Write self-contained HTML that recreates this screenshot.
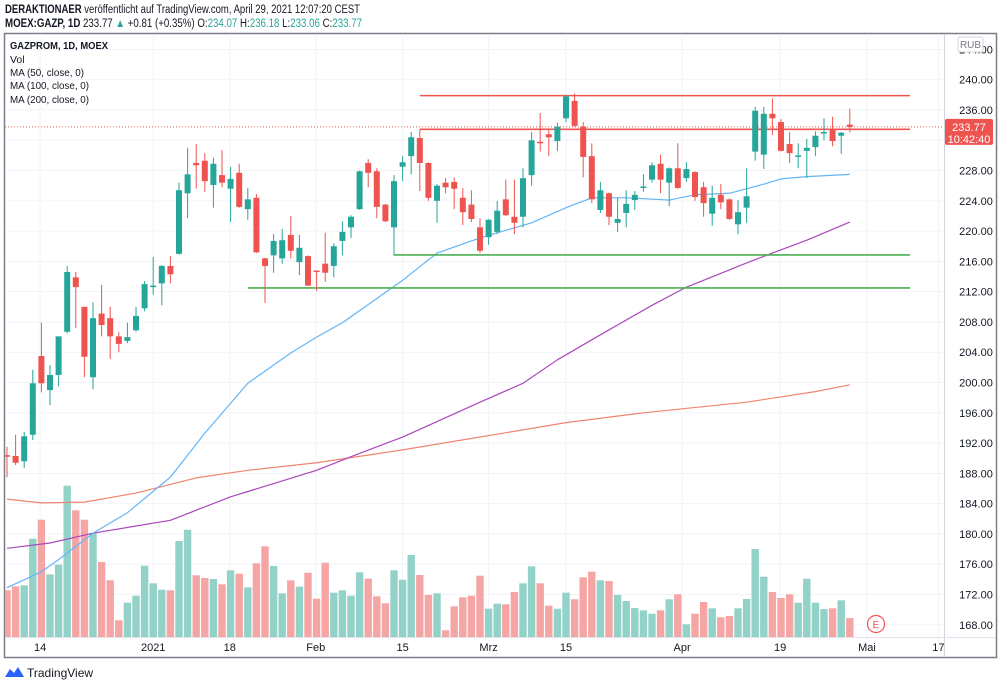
<!DOCTYPE html>
<html><head><meta charset="utf-8"><style>
html,body{margin:0;padding:0;background:#fff;width:1000px;height:684px;overflow:hidden}
svg{display:block;font-family:"Liberation Sans",sans-serif}
</style></head><body>
<svg id="chart" width="1000" height="684" viewBox="0 0 1000 684">
<g>
<text x="5" y="13" font-size="11.5" fill="#131722" textLength="355" lengthAdjust="spacingAndGlyphs"><tspan font-weight="bold">DERAKTIONAER</tspan> veröffentlicht auf TradingView.com, April 29, 2021 12:07:20 CEST</text>
<text x="5" y="27" font-size="11.5" fill="#131722" textLength="357" lengthAdjust="spacingAndGlyphs"><tspan font-weight="bold">MOEX:GAZP, 1D</tspan> 233.77 <tspan fill="#26a69a">▲</tspan> +0.81 (+0.35%) O:<tspan fill="#26a69a">234.07</tspan> H:<tspan fill="#26a69a">236.18</tspan> L:<tspan fill="#26a69a">233.06</tspan> C:<tspan fill="#26a69a">233.77</tspan></text>
</g>
<rect x="4.5" y="33.5" width="992" height="624" fill="none" stroke="#7b7e88" stroke-width="1.5"/>
<g id="grid"></g>
<defs><clipPath id="plot"><rect x="5" y="34" width="939" height="603"/></clipPath></defs>
<g id="vol" clip-path="url(#plot)"></g>
<g id="mas" clip-path="url(#plot)"></g>
<g id="lines"></g>
<g id="candles" clip-path="url(#plot)"></g>
<line x1="944.5" y1="34" x2="944.5" y2="657" stroke="#d1d4dc"/>
<line x1="5" y1="637.5" x2="996" y2="637.5" stroke="#e0e3eb"/>
<g id="yaxis"></g>
<g id="xaxis"></g>
<g font-size="10.5" fill="#131722">
<text x="10" y="49" font-weight="bold" textLength="98" lengthAdjust="spacingAndGlyphs">GAZPROM, 1D, MOEX</text>
<text x="10" y="63">Vol</text>
<text x="10" y="76" textLength="74" lengthAdjust="spacingAndGlyphs">MA (50, close, 0)</text>
<text x="10" y="89" textLength="79" lengthAdjust="spacingAndGlyphs">MA (100, close, 0)</text>
<text x="10" y="103" textLength="79" lengthAdjust="spacingAndGlyphs">MA (200, close, 0)</text>
</g>
<g><rect x="958" y="37" width="25" height="15" rx="2" fill="#fff" stroke="#d1d4dc"/><text x="970.5" y="48" font-size="10" text-anchor="middle" fill="#787b86">RUB</text></g>
<g><circle cx="876" cy="624" r="8.5" fill="#fff" stroke="#ef5350" stroke-width="1.2"/><text x="876" y="628" font-size="10" text-anchor="middle" fill="#ef5350">E</text></g>
<g id="pricetag"></g>
<g>
<path d="M5 677 L10 669 L14 673 L18 667 L24 677 Z" fill="#2962ff"/>
<text x="27" y="677" font-size="12" fill="#131722">TradingView</text>
</g>
</svg>
<script>
const opens=[190.4,190.3,189.6,193.1,203.5,199.0,201.0,206.7,213.9,210.0,200.7,209.1,208.5,206.1,205.5,206.9,209.8,212.7,213.1,215.4,217.0,225.0,229.0,229.3,226.1,227.4,225.6,227.7,222.9,224.4,216.4,216.8,216.4,219.5,215.9,216.7,214.8,215.7,215.4,218.7,220.5,222.9,229.0,227.9,223.5,220.5,228.5,229.9,232.3,229.0,224.0,226.4,226.5,224.4,223.5,220.5,219.2,219.9,224.2,221.9,221.9,227.4,231.8,232.8,231.9,234.9,237.2,233.8,229.9,222.8,225.0,221.1,222.4,224.1,225.7,226.8,228.9,226.4,228.3,227.0,227.8,225.8,222.3,224.8,224.2,220.9,223.1,230.5,230.1,235.5,234.4,231.5,229.9,230.6,231.1,232.9,233.4,232.6,234.07];
const highs=[191.5,193.1,193.5,201.7,207.9,202.3,206.1,215.4,214.6,210.0,210.6,212.9,210.0,206.7,207.9,210.0,213.4,216.6,215.5,216.7,226.4,231.0,231.5,230.3,229.7,230.7,228.5,228.9,225.7,224.9,216.5,219.6,220.3,222.0,219.5,216.8,214.8,219.8,218.4,221.3,222.1,228.0,229.5,228.3,223.6,227.4,229.9,233.1,233.4,229.1,226.2,227.0,227.1,225.7,225.4,221.7,221.6,224.0,226.8,226.8,228.3,233.1,235.6,233.4,234.3,238.0,238.2,234.4,231.6,226.5,225.1,224.4,225.4,225.3,227.5,229.1,230.1,228.4,231.6,229.1,227.9,226.5,226.0,226.2,224.3,224.1,228.3,236.4,236.4,237.5,234.8,233.1,231.6,232.2,233.2,234.9,235.1,233.1,236.18];
const lows=[187.5,189.1,188.7,192.4,198.7,197.0,199.5,206.5,207.2,200.7,199.1,206.1,203.1,204.0,205.2,206.7,209.4,211.6,210.2,213.1,216.9,221.7,225.6,225.2,223.1,225.8,221.2,223.1,221.5,217.1,210.5,214.5,215.7,216.4,214.2,212.7,212.1,213.3,213.9,216.8,219.1,222.8,225.8,221.7,221.2,216.8,226.6,227.5,225.3,224.0,221.1,225.0,222.9,220.8,221.2,217.1,218.2,219.6,222.0,219.6,220.5,226.0,230.5,229.9,230.6,234.4,233.8,227.1,223.7,222.4,220.8,219.9,220.5,222.8,225.2,226.4,225.0,223.3,225.6,226.5,224.0,221.9,220.7,222.9,221.5,219.6,221.1,229.3,228.2,232.7,230.5,229.0,228.3,227.0,229.9,232.0,231.2,230.2,233.06];
const closes=[190.2,189.4,192.9,199.9,199.9,201.0,206.1,214.6,212.6,203.4,208.5,207.6,206.1,205.1,206.0,208.8,213.0,212.8,215.4,214.3,225.4,227.5,228.7,226.6,228.9,226.4,226.9,223.2,224.2,217.2,215.4,218.7,218.8,217.4,217.8,212.8,214.7,214.5,218.0,219.9,221.9,227.9,227.7,223.2,221.3,226.6,229.1,232.4,229.0,224.4,226.0,225.8,225.6,222.5,221.6,217.4,221.5,222.7,222.1,221.1,227.0,232.0,231.6,232.4,233.8,237.8,233.9,229.8,224.2,225.4,221.9,221.6,223.6,224.8,225.9,228.7,226.8,228.3,225.7,228.2,224.5,223.7,224.4,223.8,221.6,222.5,224.6,235.9,235.5,234.9,230.6,230.3,230.0,231.0,232.6,233.1,231.9,233.0,233.77];
const volumes=[46.7,50.7,51.7,98.3,117.3,62.7,72.3,151.3,126.7,117.3,104,75,56.7,16.7,34.3,41.3,71.3,53.7,47.3,46.7,96,107.3,61.7,59,58,52.7,66.7,63.3,49.7,73.7,90.7,71,43.7,56.7,50.3,64.3,38.3,74.3,44.3,46.7,41.3,64.7,58.3,40.7,33.7,66.7,57.3,82,62,42,43.7,6.7,30.7,39.7,41.3,61.3,28.3,33.3,32.7,45,53.7,70.7,53.7,31.3,28.3,44.3,37.7,59.7,65.3,56.7,56,42,36,29,26.7,23.3,26.7,37.7,42.7,12.7,23.3,35,28.7,19.7,21,28.7,38,88,60.3,45,39,42.7,34.3,58.3,34.3,28,28.7,36.7,19];
const ma50Idx=[0,4,6,10,14,19,23,28,33,36,39,46,50,55,61,65,68,72,77,80,84,88,90,93,98];
const ma50Val=[172.9,175.0,176.6,180.1,182.8,187.5,193.3,199.9,203.9,206.0,207.9,213.5,217.1,219.1,221.1,223.1,224.4,224.4,224.1,224.8,225.0,226.2,226.9,227.2,227.5];
const ma100Idx=[0,5,10,19,26,36,40,46,55,60,64,69,75,79,81,86,89,93,98];
const ma100Val=[178.1,178.8,180.1,181.8,184.9,188.4,190.2,192.8,197.4,199.9,203.0,206.3,210.2,212.6,213.5,215.8,217.1,218.8,221.2];
const ma200Idx=[0,4,9,15,22,28,36,46,55,65,74,86,94,98];
const ma200Val=[184.6,184.1,184.2,185.4,187.4,188.4,189.4,191.1,192.8,194.7,196.0,197.4,198.8,199.7];
const levelPrices=[237.9,233.45,216.85,212.5];
const levelStartIdx=[48,48,45,28];
const levelColors=["#ef5350","#ef5350","#4caf50","#4caf50"];
const priceTicks=[244,240,236,232,228,224,220,216,212,208,204,200,196,192,188,184,180,176,172,168];
const timeLabels=["14","2021","18","Feb","15","Mrz","15","Apr","19","Mai","17"];
const timeLabelIdx=[3.85,17,25.9,35.9,46,56,65,78.5,89.9,100,108.3];
const lastPrice=233.77;

const NS="http://www.w3.org/2000/svg";
const xS=i=>7+8.6*i;
const yS=p=>110+(236-p)*7.57;
const volBase=637;
function mk(tag,attrs,parent){const e=document.createElementNS(NS,tag);for(const k in attrs)e.setAttribute(k,attrs[k]);parent.appendChild(e);return e;}
const G=id=>document.getElementById(id);

priceTicks.forEach(p=>{const l=mk('line',{x1:5,x2:944,y1:yS(p),y2:yS(p),stroke:'#f0f3fa'},G('grid'));

});
timeLabelIdx.forEach(i=>{const l=mk('line',{x1:xS(i),x2:xS(i),y1:34,y2:637,stroke:'#f0f3fa'},G('grid'));

});

volumes.forEach((v,i)=>{const up=closes[i]>=opens[i];
const r=mk('rect',{x:xS(i)-3.7,y:volBase-v,width:7.4,height:v,fill:up?'#93d2c9':'#f5a6a4'},G('vol'));

});

function maLine(idx,val,color,name){const pts=idx.map((i,k)=>xS(i)+','+yS(val[k])).join(' ');
const p=mk('polyline',{points:pts,fill:'none',stroke:color,'stroke-width':1.2,'stroke-linejoin':'round'},G('mas'));

}
maLine(ma200Idx,ma200Val,'#f0856e','ma200-line');
maLine(ma100Idx,ma100Val,'#ab47bc','ma100-line');
maLine(ma50Idx,ma50Val,'#64b5f6','ma50-line');

const dl=mk('line',{x1:5,x2:944,y1:yS(lastPrice),y2:yS(lastPrice),stroke:'#ef5350','stroke-dasharray':'1,2','stroke-width':1},G('lines'));



levelPrices.forEach((p,k)=>{const l=mk('line',{x1:xS(levelStartIdx[k]),x2:910,y1:yS(p),y2:yS(p),stroke:levelColors[k],'stroke-width':1.6},G('lines'));

});

opens.forEach((o,i)=>{const c=closes[i],up=c>=o,col=up?'#26a69a':'#ef5350',x=xS(i);
const g=mk('g',{},G('candles'));


mk('line',{x1:x,x2:x,y1:yS(highs[i]),y2:yS(lows[i]),stroke:col,'stroke-width':1},g);
const top=yS(Math.max(o,c)),bot=yS(Math.min(o,c));
mk('rect',{x:x-3,y:top,width:6,height:Math.max(1.5,bot-top),fill:col},g);});

priceTicks.forEach(p=>{const t=mk('text',{x:976,y:yS(p)+4,'font-size':11,'text-anchor':'middle',fill:'#131722'},G('yaxis'));
t.textContent=p.toFixed(2);

});
timeLabels.forEach((s,k)=>{const t=mk('text',{x:xS(timeLabelIdx[k]),y:651,'font-size':11,'text-anchor':'middle',fill:'#131722'},G('xaxis'));
t.textContent=s;

});
const py=yS(lastPrice);
mk('rect',{x:945,y:py-8,width:48,height:26,rx:2,fill:'#ef5350'},G('pricetag'));
const t1=mk('text',{x:969,y:py+4,'font-size':11,'text-anchor':'middle',fill:'#fff'},G('pricetag'));t1.textContent=lastPrice.toFixed(2);
const t2=mk('text',{x:969,y:py+16,'font-size':11,'text-anchor':'middle',fill:'#fff'},G('pricetag'));t2.textContent='10:42:40';
</script>
</body></html>
